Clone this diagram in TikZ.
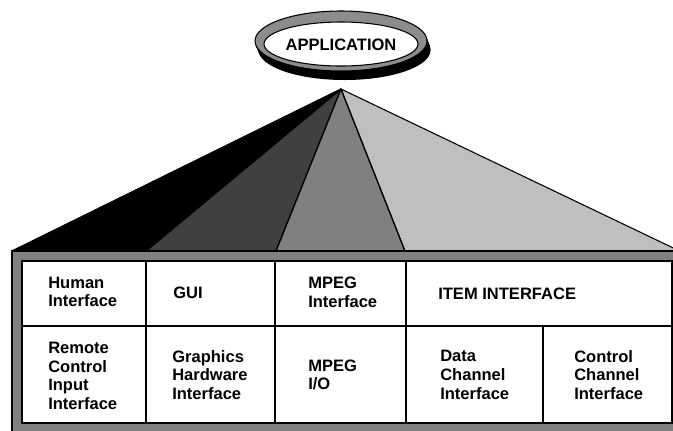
\documentclass[tikz,border=0pt]{standalone}
\usepackage{fontspec}
\setmainfont{Liberation Sans}
\begin{document}
\begin{tikzpicture}[x=0.75pt,y=-0.75pt,
  label/.style={font=\bfseries\fontsize{12.4}{14}\selectfont, align=left, anchor=west, inner sep=0pt},
  facet/.style={draw=black, line width=0.8pt, line join=round},
  grid/.style={draw=black, line width=1.3pt}]
\useasboundingbox (0,0) rectangle (673,430);
\clip (0,0) rectangle (673,430);

% pyramid facets from the apex down to the frame
\coordinate (apex) at (341,89);
\fill[facet, fill=black]        (apex) -- (12,251)  -- (146,251) -- cycle;
\fill[facet, fill=black!75]     (apex) -- (146,251) -- (276,251) -- cycle;
\fill[facet, fill=black!50]     (apex) -- (276,251) -- (405,251) -- cycle;
\fill[facet, fill=black!25]     (apex) -- (405,251) -- (690,256) -- cycle;
\draw[facet] (apex) -- (12,251);
\draw[facet] (apex) -- (146,251);
\draw[facet] (apex) -- (276,251);
\draw[facet] (apex) -- (405,251);

% gray frame and white table
\filldraw[fill=black!50, draw=black, line width=0.8pt] (12,251) rectangle (700,445);
\filldraw[fill=white, grid] (22,261) rectangle (672,423);
\draw[grid] (22,326) -- (672,326);
\draw[grid] (146,261) -- (146,423);
\draw[grid] (275,261) -- (275,423);
\draw[grid] (406,261) -- (406,423);
\draw[grid] (543,326) -- (543,423);

% application oval with extruded shadow
\foreach \t in {0,0.1,...,1.0}
  \fill[black] (341+4*\t,41+10*\t) ellipse [x radius=86, y radius=30];
\filldraw[fill=black!45, draw=black, line width=0.8pt] (341,41) ellipse [x radius=86, y radius=30];
\filldraw[fill=white, draw=black, line width=0.8pt] (341,44) ellipse [x radius=77, y radius=22];
\node[label, anchor=center] (app) at (341,45) {APPLICATION};

% cell texts
\node[label] (human)   at (48,292)  {Human\\Interface};
\node[label] (gui)     at (173,293) {GUI};
\node[label] (mpegif)  at (308,292) {MPEG\\Interface};
\node[label] (item)    at (438,294) {ITEM INTERFACE};
\node[label] (remote)  at (48,376)  {Remote\\Control\\Input\\Interface};
\node[label] (graphic) at (172,375) {Graphics\\Hardware\\Interface};
\node[label] (mpegio)  at (308,375) {MPEG\\I/O};
\node[label] (data)    at (440,375) {Data\\Channel\\Interface};
\node[label] (control) at (574,375) {Control\\Channel\\Interface};
\end{tikzpicture}
\end{document}
